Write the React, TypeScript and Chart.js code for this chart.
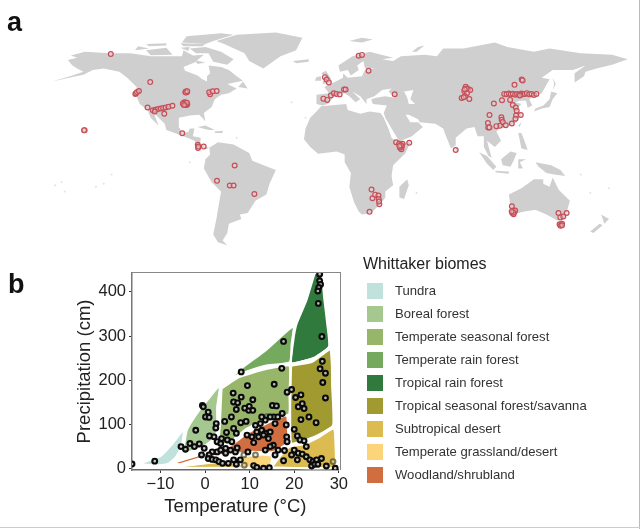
import React, { useEffect, useRef } from "react";
import { Chart, registerables } from "chart.js";
Chart.register(...registerables);

type P = [number, number];
const FONT = '"Liberation Sans", Arial, sans-serif';

// ---- world map land outlines, [longitude, latitude]
const northAmerica: P[] = [[-168,65.5],[-162,67],[-166,68.5],[-157,71],[-141,70],[-128,70],[-115,68],[-108,68],[-95,68],[-94,72],[-88,68.5],[-81,69],[-87,64],[-94,61],[-93,58.5],[-85,55.5],[-82,53],[-79,51.5],[-79,55],[-77,57],[-78,62],[-70,61],[-65,59],[-60,55],[-56,52],[-66,50],[-60,47],[-65,44],[-70,43],[-74,40],[-76,35],[-81,31],[-80,25.5],[-82,28],[-84,30],[-90,29.5],[-97,28],[-97,22],[-95,18.5],[-91,18.5],[-90,21],[-87,21],[-88,16],[-83,15],[-83.5,10],[-80,9],[-77.5,8.5],[-80,7.5],[-85,10],[-87,13],[-94,16],[-105,20],[-106,24],[-113,31],[-110,23],[-115,28],[-117,33],[-122,37],[-124,42],[-124,48],[-130,54],[-135,58],[-145,60],[-152,59],[-158,56],[-165,54.5],[-178,51.5],[-165,55.5],[-158,58],[-162,60],[-165,62]];
const greenland: P[] = [[-73,78],[-60,82],[-35,83.5],[-18,80],[-22,72],[-32,68],[-43,60],[-52,65],[-55,70],[-68,76]];
const baffin: P[] = [[-90,73],[-80,74],[-70,71],[-62,66],[-66,62.5],[-75,64.5],[-78,70],[-86,70]];
const victoria: P[] = [[-118,72],[-105,73.5],[-101,69],[-115,68.7]];
const ellesmere: P[] = [[-95,77],[-92,81],[-70,83],[-62,82],[-75,78],[-80,76]];
const banks: P[] = [[-125,72],[-123,74.5],[-116,73]];
const melville: P[] = [[-118,76],[-105,76.5],[-105,75],[-116,74.5]];
const devon: P[] = [[-96,76.5],[-80,76],[-82,74.5],[-94,74.5]];
const somerset: P[] = [[-96,73.5],[-90,74],[-91,71.5]];
const southampton: P[] = [[-87,65.5],[-80,64],[-85,63]];
const newfoundland: P[] = [[-59,48],[-56,51.5],[-53,47]];
const cuba: P[] = [[-85,22],[-80,23],[-74,20],[-78,20]];
const hispaniola: P[] = [[-74,19],[-69,19.5],[-69,18],[-74,18]];
const southAmerica: P[] = [[-77.5,8.5],[-72,12],[-62,10.5],[-52,5],[-50,0],[-44,-2.5],[-35,-6],[-39,-15],[-41,-22],[-48,-26],[-53,-34],[-58,-35],[-57,-38],[-65,-41],[-66,-47],[-69,-52],[-66,-55],[-72,-53],[-75,-48],[-73,-38],[-70,-20],[-76,-14],[-81,-5],[-80,1],[-77,4]];
const africa: P[] = [[-6,35.5],[10,37],[11,33],[19,30.5],[25,32],[32,31],[34,28],[37,21],[39,15],[43,11.5],[51,12],[48,5],[40,-3],[39,-10],[40,-16],[35,-20],[35,-24],[32,-28],[26,-34],[20,-35],[18,-33],[15,-27],[12,-17],[13,-8],[9,-1],[9,4],[4,6],[-4,5],[-8,4.5],[-13,9],[-17,14],[-16,21],[-13,28],[-9,32]];
const eurasia: P[] = [[-9,37],[-9,43],[-1,44],[-4,48],[2,51],[8,54],[8,57],[11,54],[20,55],[22,59],[29,60],[22,60],[21,65],[17,62],[18,59],[13,55.5],[11,59],[6,58],[5,62],[14,68],[25,71],[40,67],[33,66],[40,65],[45,68],[60,69],[68,68],[72,73],[85,73],[105,77],[113,74],[130,71],[140,73],[160,70],[180,69],[190,66],[180,62.5],[170,60],[163,58],[162,55],[156,51],[156,57],[163,62],[155,59],[142,59],[135,54],[140,53],[135,44],[130,42],[127,40],[129,36],[126,34.5],[125,39],[121,39],[118,38],[122,37],[119,34],[122,30],[119,25],[113,22],[108,21],[106,19],[109,13],[105,9],[100,13],[103,2],[101,3],[98,9],[98,16],[94,16],[92,22],[87,21],[80,15],[80,10],[77,8],[73,18],[72,21],[67,24],[57,25],[56,27],[50,30],[48,30],[51,25],[56,25],[59,22],[52,16],[44,12.5],[39,21],[35,28],[34,31],[36,36],[27,37],[26,40],[29,41],[35,42],[41,41],[37,45],[39,47],[33,46],[28,42],[23,40],[23,37],[19,42],[14,45],[19,40],[16,38],[12,42],[9,44],[3,43],[0,39],[-2,37],[-5,36]];
const britain: P[] = [[-5,50],[1,51],[0,54],[-3,58.5],[-6,57],[-3,54],[-5,52]];
const ireland: P[] = [[-10,52],[-6,52],[-6,55],[-9,54.5]];
const iceland: P[] = [[-24,65],[-14,66],[-14,64.5],[-22,63.5]];
const svalbard: P[] = [[12,78],[20,80],[27,79],[20,77]];
const novaya: P[] = [[52,71],[56,74],[68,77],[60,75],[55,71]];
const japan: P[] = [[130,32],[135,34],[140,35],[142,40],[145,44],[141,45],[140,40],[136,36],[131,34]];
const sakhalin: P[] = [[142,46],[143,50],[142,54],[144,50]];
const taiwan: P[] = [[120,23],[122,25],[121,22]];
const philippines: P[] = [[120,18],[122,18],[124,13],[126,7],[122,8],[121,13]];
const borneo: P[] = [[109,1],[115,6],[119,5],[117,0],[115,-4],[110,-3]];
const sumatra: P[] = [[95,5.5],[100,3],[106,-4],[104,-6],[100,-2]];
const java: P[] = [[105,-6.5],[114,-7],[114,-8.5],[106,-7.7]];
const sulawesi: P[] = [[120,1],[125,1],[121,-1],[123,-5],[120,-5]];
const newGuinea: P[] = [[131,-1],[141,-3],[147,-6],[150,-10],[143,-9],[138,-8],[133,-4]];
const sriLanka: P[] = [[80,9.5],[82,7],[80.5,6]];
const madagascar: P[] = [[49,-12],[50,-16],[47,-25],[44,-24],[44,-17]];
const australia: P[] = [[114,-22],[122,-18],[130,-12],[136,-12],[136,-15],[140,-17],[142,-11],[146,-19],[153,-26],[150,-37],[145,-39],[138,-35],[131,-32],[124,-33],[116,-35],[115,-30]];
const tasmania: P[] = [[145,-41],[148,-41],[147,-43.5]];
const newZealandN: P[] = [[173,-35],[178,-38],[175,-41],[174,-38]];
const newZealandS: P[] = [[172,-41],[174,-42],[168,-47],[166,-46]];
const landShapes = [northAmerica,greenland,baffin,victoria,ellesmere,banks,melville,devon,somerset,southampton,newfoundland,cuba,hispaniola,southAmerica,africa,eurasia,britain,ireland,iceland,svalbard,novaya,japan,sakhalin,taiwan,philippines,borneo,sumatra,java,sulawesi,newGuinea,sriLanka,madagascar,australia,tasmania,newZealandN,newZealandS];
const caspian: P[] = [[47,45],[53,46],[51,40],[54,37],[50,37],[49,41]];
const tinyIslands: P[] = [[-176,-16],[-172,-14],[-150,-17],[-145,-15],[-140,-9],[-170,-20],[-90,-1],[178,-18],[166,-21],[160,-9],[-25,38],[-16,28],[-60,15],[55,-21]];

// ---- map sites, [longitude, latitude]
const sites: P[] = [[-140.5,69.4],[-115.3,51.2],[-157.2,19.8],[-157.6,19.9],[-124.8,43.5],[-124.4,44],[-123.7,44.8],[-122.5,45.4],[-92.8,44.8],[-92,45],[-91.8,44.6],[-92.4,45.1],[-92.6,44.4],[-91.6,45.3],[-93.1,37],[-94,36.6],[-92.4,37.5],[-91.6,36.8],[-93.6,37.9],[-92,36.2],[-93,38],[-94.4,37.3],[-92.6,36.4],[-91.8,37.8],[-93.6,36.3],[-77,43.3],[-77.6,44.6],[-75.3,45.2],[-72.8,45.4],[-117,34.6],[-106.3,30.6],[-113.6,32.9],[-112,33.2],[-110.4,33.6],[-108.6,34],[-107,34.4],[-105.4,34.7],[-103.6,35.1],[-101.1,35.8],[-112.4,32],[-94.8,17.9],[-84.9,10.4],[-84.7,8.3],[-84.5,9.2],[-81.1,9.2],[-61.3,-3.1],[-72.6,-13.1],[-64.4,-16.1],[-62,-16.1],[-48.7,-21.7],[18,68.3],[20.1,68.9],[24.3,58.6],[-3.6,54.4],[-2.5,52.9],[-1.1,51],[-4.6,40.4],[-2.1,39.6],[0.2,42.5],[2.1,43.9],[3.8,43.5],[5.8,43.1],[8.6,46.4],[9.6,46.4],[41,43.3],[86.4,48.1],[88,46.7],[89.3,46],[85.5,45.4],[87.2,44],[85.9,41.9],[83.8,40.8],[85.1,41.3],[88.7,40.2],[87,47],[85.8,46.5],[111,43.5],[112.5,43.3],[114,43.7],[115.2,43.2],[116.5,43.6],[118,43],[119.2,43.4],[120.5,43],[122,43.7],[123,43.2],[124.2,43.5],[125.5,44],[127,43.2],[128.5,43.5],[130,42.8],[131.6,43.5],[121,42.5],[117.6,49.4],[122.2,52.9],[122.8,52.3],[109.6,39.4],[104.4,37.3],[114.8,39.6],[116.5,36.3],[118.4,34.6],[119,32.5],[118.6,29.4],[121.6,29.8],[101.6,29.8],[109.2,28.3],[109.4,26.6],[110.1,25.2],[118.2,27.3],[115.9,24.2],[112,23.1],[108.2,22.7],[106,22.5],[100.6,24.6],[100.8,21.7],[101.6,21.7],[41.9,12],[50.3,11.7],[44.6,10.6],[45.3,7.5],[43.8,11],[46,11],[44.8,9],[45.6,9.4],[44.4,8.4],[45,10],[44,9.6],[80,7],[26.2,-18.8],[26.8,-24.4],[28.5,-22.1],[30.6,-22.7],[30.8,-25],[31.2,-28.3],[31,-26.6],[24.9,-33.3],[115.9,-29.6],[116.6,-32.6],[117.6,-33.2],[116.2,-34],[117,-34.8],[118,-32.4],[116.8,-33.8],[115.8,-33],[145.7,-34],[150.9,-34],[146.9,-36.9],[148.8,-36.3],[147.3,-41.7],[146.4,-41.4],[148,-41],[147,-42.4],[148,-42]];

// ---- Whittaker biome outlines, [temperature, precipitation]
const tundra: P[] = [[-15,10.5],[-10.2,27],[-7.3,57],[-4.8,88.6],[-5.2,53],[-6.5,27],[-8.4,10.5],[-11,7.5]];
const borealForest: P[] = [[-5,34.5],[-4.1,87],[-2.1,121],[0.5,155],[3.3,188],[2.7,140],[2.7,102],[2.4,72],[0.1,53],[-2.4,42]];
const temperateSeasonalForest: P[] = [[3.7,181],[7.6,207],[13.5,225],[18.9,233],[18.9,170],[18.8,123],[13.5,111],[9.4,91],[5.7,61],[3.1,53],[3.3,95],[3.5,140]];
const temperateRainForest: P[] = [[4.2,191],[8.3,228],[13.5,267],[19.8,322],[19.4,282],[19,241],[13.5,233],[7.9,215]];
const tropicalRainForest: P[] = [[24.6,443],[26.1,443],[26.7,387],[27.4,327],[27.8,276],[24.6,252],[19.4,239],[19.8,290],[20.5,327],[22.7,380]];
const tropicalSeasonalForest: P[] = [[19.3,233],[23.9,241],[28.1,269],[28.5,185],[28.7,98],[25.3,76],[21.3,61],[19.3,57],[19.1,140]];
const subtropicalDesert: P[] = [[15,3],[16.4,23],[19,50],[22.4,56],[25.7,72],[28.9,91],[29.2,3]];
const subtropicalStrip: P[] = [[-6.5,3],[2,13],[7.5,18],[8.5,3]];
const temperateGrassland: P[] = [[8.5,3],[7.5,18],[9,28],[13,32],[15,28],[14.5,3]];
const woodland: P[] = [[-6.9,14],[-1.3,31],[5.3,50],[9.4,80],[13.5,101],[18.3,121],[18.5,59],[15.3,38],[10.5,38],[6,33],[0.1,27],[-5.8,10]];

const biomeNames = ["Tundra","Boreal forest","Temperate seasonal forest","Temperate rain forest","Tropical rain forest","Tropical seasonal forest/savanna","Subtropical desert","Temperate grassland/desert","Woodland/shrubland"];
const biomeColors = ["#C1E1DD","#A5C790","#97B669","#75A95E","#317A3E","#A09A30","#DCBB50","#FCD57A","#D16E3F"];
const biomeShapes = [tundra,borealForest,temperateSeasonalForest,temperateRainForest,tropicalRainForest,tropicalSeasonalForest,subtropicalDesert,temperateGrassland,woodland];

// ---- sites in climate space, [temperature, precipitation]
const climateSites: P[] = [[-16.4,10.5],[-11.3,17],[26.2,299],[25.7,440],[25.7,425],[25.9,417],[25.5,410],[25.3,402],[25.4,374],[26.3,243],[25.8,226],[27,216],[26.4,195],[27,160],[17.6,288],[8.1,219],[17.2,227],[9.5,188],[15.5,191],[6.3,171],[6.4,151],[7.3,149],[8.1,162],[7,134],[8.9,137],[9.8,132],[10.7,156],[10.7,132],[9.9,141],[-0.6,143],[-0.4,140],[0.7,128],[0.1,117],[0.9,116],[-2.1,87],[2.5,102],[2.4,92],[4.4,107],[5.9,117],[8,104],[9.2,107],[4.8,82],[6.4,91],[7,80],[15.1,143],[16,142],[15.4,117],[16.3,117],[17.3,125],[18.4,173],[19.4,179],[20.3,161],[21.5,167],[20.9,140],[21.8,147],[22.2,136],[21.5,111],[23.3,117],[24.9,104],[18.2,99],[20,89],[18.3,72],[18.4,61],[20.7,74],[21.3,65],[22.2,63],[22.7,50],[11.3,98],[12.4,102],[13.5,110],[12.7,117],[14.6,117],[11.6,83],[12.7,87],[13.5,80],[14.6,83],[10.5,72],[9.4,76],[10.9,59],[12,72],[13.1,76],[14.2,68],[15.7,102],[15.3,53],[13.5,42],[14.6,50],[16.4,42],[17.8,41],[15.7,31],[17.6,18],[19.4,31],[20,42],[20.9,35],[20.7,20],[21.8,33],[22.7,27],[23.5,20],[24.2,16],[25,20],[26.1,23],[23.9,6],[24.6,10],[25.3,10],[27.2,6],[29.2,1],[10.9,7],[11.6,3],[13.1,1],[14.4,2],[-5.4,50],[-4.4,44],[-3.4,57],[-2.4,50],[-1.3,56],[-0.2,46],[-0.8,31],[1,74],[2,72],[2.7,61],[3.7,68],[5,65],[3.5,57],[1.6,38],[0.9,31],[0.7,23],[1.6,21],[2.4,20],[3.1,16],[3.9,12],[5.2,12],[6.4,20],[7,10],[7.9,20],[4.6,46],[5.7,42],[6.8,38],[7.2,47],[4.6,35],[2.7,38],[3.5,42],[6,61],[9.6,38]];
const faintClimateSites: P[] = [[13.9,118],[28.7,16],[8.8,8],[8.7,31],[11.3,31]];

const xTicks = [-10, 0, 10, 20, 30];
const yTicks = [0, 100, 200, 300, 400];

const xy = (pts: P[]) => pts.map(([x, y]) => ({ x, y }));
const closed = (pts: P[]) => xy([...pts, pts[0]]);

// Fills each outlined dataset as a closed shape, through the chart's scales.
const shapeFill = {
  id: "shapeFill",
  beforeDatasetDraw(chart: any, args: any) {
    const ds = chart.data.datasets[args.index];
    if (!ds.shapeColor) return;
    const pts = args.meta.data;
    const ctx = chart.ctx;
    const a = chart.chartArea;
    ctx.save();
    ctx.beginPath();
    ctx.rect(a.left, a.top, a.width, a.height);
    ctx.clip();
    ctx.beginPath();
    pts.forEach((p: any, i: number) => (i ? ctx.lineTo(p.x, p.y) : ctx.moveTo(p.x, p.y)));
    ctx.closePath();
    ctx.fillStyle = ds.shapeColor;
    ctx.fill();
    ctx.restore();
  },
};

export default function App() {
  const mapRef = useRef<HTMLCanvasElement>(null);
  const plotRef = useRef<HTMLCanvasElement>(null);

  useEffect(() => {
    const land = "#CFCFCF";
    const shape = (pts: P[], color: string, order: number) => ({
      data: closed(pts), shapeColor: color, showLine: true, order,
      borderWidth: 0, borderColor: "transparent", pointRadius: 0,
    });
    const map = new Chart(mapRef.current!, {
      type: "scatter",
      plugins: [shapeFill],
      data: {
        datasets: [
          ...landShapes.map((s) => shape(s, land, 3)),
          shape(caspian, "#FFFFFF", 2),
          { order: 1, data: xy(tinyIslands), pointRadius: 1, pointBorderWidth: 0, pointBackgroundColor: "#E2E2E2" },
          { order: 0, data: xy(sites), pointRadius: 2.4, pointBorderWidth: 1.2, pointBorderColor: "#C5505A", pointBackgroundColor: "rgba(235,205,205,0.5)" },
        ] as any,
      },
      options: {
        animation: false, responsive: false,
        layout: { padding: 0 },
        plugins: { legend: { display: false }, tooltip: { enabled: false } },
        scales: {
          x: { type: "linear", display: false, min: -208, max: 194.5 },
          y: { type: "linear", display: false, min: -61.25, max: 101.25 },
        },
      } as any,
    });

    const tickFont = { family: FONT, size: 16.5 };
    const titleFont = { family: FONT, size: 18.5 };
    const plot = new Chart(plotRef.current!, {
      type: "scatter",
      plugins: [shapeFill],
      data: {
        datasets: [
          ...biomeShapes.map((s, i) => ({
            label: biomeNames[i], data: closed(s), shapeColor: biomeColors[i], showLine: true, tension: 0.15, order: 2,
            borderWidth: 2, borderColor: "#FFFFFF", pointRadius: 0,
          })),
          { label: biomeNames[6], data: closed(subtropicalStrip), shapeColor: biomeColors[6], showLine: true, order: 2, borderWidth: 1, borderColor: "#FFFFFF", pointRadius: 0 },
          { order: 1, label: "sites (faint)", data: xy(faintClimateSites), pointRadius: 2.4, pointBorderWidth: 2, pointBorderColor: "rgba(70,70,40,0.7)", pointBackgroundColor: "rgba(210,210,190,0.4)" },
          { order: 0, label: "sites", data: xy(climateSites), pointRadius: 2.4, pointBorderWidth: 2.1, pointBorderColor: "#0A0A0A", pointBackgroundColor: "rgba(190,195,190,0.85)" },
        ] as any,
      },
      options: {
        animation: false, responsive: false,
        layout: { padding: { left: 0, right: 9, top: 12, bottom: 0 } },
        plugins: { legend: { display: false }, tooltip: { enabled: false } },
        scales: {
          x: {
            type: "linear", min: -16.4, max: 30, afterFit: (s: any) => { s.height = 59; },
            afterBuildTicks: (s: any) => { s.ticks = xTicks.map((value) => ({ value })); },
            grid: { drawOnChartArea: false, color: "#333333", tickLength: 3, drawTicks: true },
            border: { color: "#666666", width: 1.5 },
            ticks: { font: tickFont, color: "#222222", padding: 2, maxRotation: 0, callback: (v: any) => (v < 0 ? "\u2212" + Math.abs(v) : String(v)) },
            title: { display: true, text: "Temperature (\u00B0C)", font: titleFont, color: "#222222", padding: { top: 0, bottom: 11 } },
          },
          y: {
            type: "linear", min: -3, max: 443, afterFit: (s: any) => { s.width = 132; },
            afterBuildTicks: (s: any) => { s.ticks = yTicks.map((value) => ({ value })); },
            grid: { drawOnChartArea: false, color: "#333333", tickLength: 3, drawTicks: true },
            border: { color: "#777777", width: 1.5 },
            ticks: { font: tickFont, color: "#222222", padding: 3 },
            title: { display: true, text: "Precipitation (cm)", font: titleFont, color: "#222222", padding: { top: 74, bottom: 0 } },
          },
        },
      } as any,
    });
    return () => { map.destroy(); plot.destroy(); };
  }, []);

  const abs: React.CSSProperties = { position: "absolute" };
  return (
    <div style={{ ...abs, left: 0, top: 0, width: 640, height: 529, overflow: "hidden", background: "#FFFFFF", fontFamily: FONT }}>
      <canvas ref={mapRef} width={640} height={260} style={{ ...abs, left: 0, top: 0 }} />
      <canvas ref={plotRef} width={350} height={269} style={{ ...abs, left: 0, top: 260 }} />
      <div style={{ ...abs, left: 132, top: 272, width: 209, height: 198, borderTop: "1.5px solid #888", borderRight: "1.5px solid #888", boxSizing: "border-box", pointerEvents: "none" }} />
      <div style={{ ...abs, left: 7, top: 6, fontSize: 27, fontWeight: 700, color: "#111", lineHeight: "32px" }}>a</div>
      <div style={{ ...abs, left: 8, top: 268, fontSize: 27, fontWeight: 700, color: "#111", lineHeight: "32px" }}>b</div>
      <div style={{ ...abs, left: 363, top: 255, fontSize: 16, color: "#222", lineHeight: "18px", whiteSpace: "nowrap" }}>Whittaker biomes</div>
      {biomeNames.map((name, i) => (
        <React.Fragment key={name}>
          <div style={{ ...abs, left: 367, top: 283 + i * 23, width: 16, height: 16, background: biomeColors[i] }} />
          <div style={{ ...abs, left: 395, top: 283 + i * 23, fontSize: 13.1, color: "#333", lineHeight: "16px", whiteSpace: "nowrap" }}>{name}</div>
        </React.Fragment>
      ))}
      <div style={{ ...abs, left: 639, top: 0, width: 1, height: 529, background: "#BBBBBB" }} />
      <div style={{ ...abs, left: 0, top: 527, width: 640, height: 1, background: "#CCCCCC" }} />
    </div>
  );
}
